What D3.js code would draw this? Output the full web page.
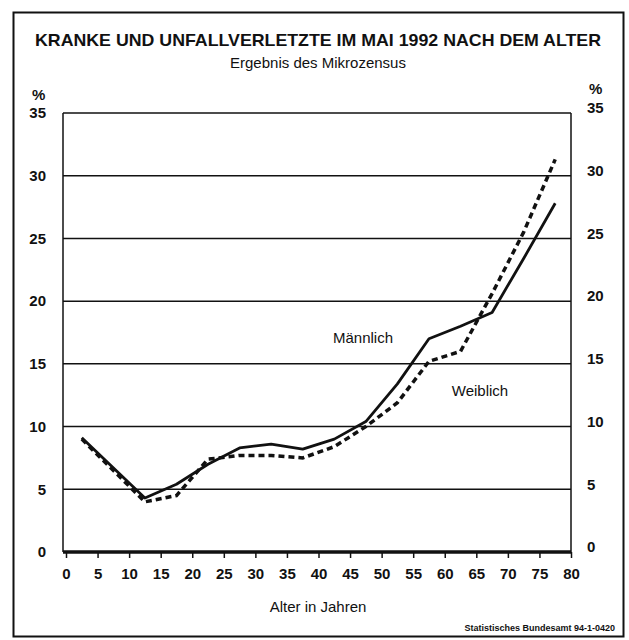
<!DOCTYPE html>
<html lang="de">
<head>
  <meta charset="UTF-8">
  <title>Kranke und Unfallverletzte im Mai 1992 nach dem Alter</title>
  <script src="https://d3js.org/d3.v7.min.js"></script>
  <style>
    body {
      margin: 0;
      background: #fff;
      font-family: "Liberation Sans", Arial, sans-serif;
    }
    .tick-label {
      font-size: 15px;
      font-weight: bold;
      fill: #111;
    }
  </style>
</head>
<body>
  <div id="chart"></div>
  <script>
    // Alter (Klassenmitten) und Anteil Kranke/Unfallverletzte in %
    const ages = [2.5, 12.5, 17.5, 22.5, 27.5, 32.5, 37.5, 42.5, 47.5, 52.5, 57.5, 62.5, 67.5, 72.5, 77.5];
    const maennlich = [9.1, 4.3, 5.4, 7.0, 8.3, 8.6, 8.2, 9.0, 10.4, 13.4, 17.0, 18.0, 19.1, 23.4, 27.8];
    const weiblich = [9.0, 4.0, 4.5, 7.4, 7.7, 7.7, 7.5, 8.4, 10.0, 11.9, 15.2, 16.0, 20.6, 25.5, 31.3];
    const xTicks = d3.range(0, 81, 5);
    const yTicks = [0, 5, 10, 15, 20, 25, 30, 35];

    const W = 629, H = 640;
    const plot = {left: 66, right: 571, top: 113, bottom: 552};

    const svg = d3.select("#chart").append("svg")
      .attr("width", W)
      .attr("height", H);

    const x = d3.scaleLinear().domain([0, 80]).range([plot.left, plot.right]);
    const y = d3.scaleLinear().domain([0, 35]).range([plot.bottom, plot.top]);

    // outer frame
    svg.append("rect")
      .attr("x", 13.5).attr("y", 12.5)
      .attr("width", 610).attr("height", 624)
      .attr("fill", "none")
      .attr("stroke", "#111")
      .attr("stroke-width", 2);

    svg.append("text")
      .attr("x", 318).attr("y", 46)
      .attr("text-anchor", "middle")
      .attr("font-size", 17)
      .attr("font-weight", "bold")
      .attr("textLength", 566)
      .attr("lengthAdjust", "spacingAndGlyphs")
      .attr("fill", "#111")
      .text("KRANKE UND UNFALLVERLETZTE IM MAI 1992 NACH DEM ALTER");

    svg.append("text")
      .attr("x", 318).attr("y", 68)
      .attr("text-anchor", "middle")
      .attr("font-size", 15)
      .attr("fill", "#111")
      .text("Ergebnis des Mikrozensus");

    // gridlines
    svg.append("g")
      .selectAll("line")
      .data(yTicks.filter(d => d > 0))
      .join("line")
      .attr("x1", plot.left - 3).attr("x2", plot.right)
      .attr("y1", d => y(d)).attr("y2", d => y(d))
      .attr("stroke", "#111")
      .attr("stroke-width", 1.5);

    // box sides
    svg.append("line")
      .attr("x1", plot.left - 3).attr("x2", plot.left - 3)
      .attr("y1", plot.top).attr("y2", plot.bottom)
      .attr("stroke", "#111").attr("stroke-width", 1.5);
    svg.append("line")
      .attr("x1", plot.right).attr("x2", plot.right)
      .attr("y1", plot.top).attr("y2", plot.bottom)
      .attr("stroke", "#111").attr("stroke-width", 1.5);

    // x axis
    const xAxis = svg.append("g")
      .attr("transform", "translate(0," + plot.bottom + ")")
      .call(d3.axisBottom(x).tickValues(xTicks).tickSize(6).tickPadding(10).tickFormat(d3.format("d")));
    xAxis.select(".domain").remove();
    xAxis.selectAll(".tick line").attr("stroke", "#111").attr("stroke-width", 1.5);
    xAxis.selectAll(".tick text")
      .attr("class", "tick-label")
      .attr("font-family", null)
      .attr("font-size", null);
    svg.append("line")
      .attr("x1", plot.left - 3).attr("x2", plot.right)
      .attr("y1", plot.bottom).attr("y2", plot.bottom)
      .attr("stroke", "#111").attr("stroke-width", 3.5);

    // y labels both sides
    svg.append("g")
      .selectAll("text")
      .data(yTicks)
      .join("text")
      .attr("class", "tick-label")
      .attr("x", 46)
      .attr("y", d => y(d))
      .attr("dy", "0.35em")
      .attr("text-anchor", "end")
      .text(d => d);
    svg.append("g")
      .selectAll("text")
      .data(yTicks)
      .join("text")
      .attr("class", "tick-label")
      .attr("x", 587)
      .attr("y", d => y(d) - 5)
      .attr("dy", "0.35em")
      .attr("text-anchor", "start")
      .text(d => d);
    svg.append("text").attr("class", "tick-label")
      .attr("x", 32).attr("y", 100).text("%");
    svg.append("text").attr("class", "tick-label")
      .attr("x", 589).attr("y", 94).text("%");

    // lines
    const line = d3.line()
      .x(d => x(d[0]))
      .y(d => y(d[1]));

    svg.append("path")
      .datum(d3.zip(ages, weiblich))
      .attr("d", line)
      .attr("fill", "none")
      .attr("stroke", "#111")
      .attr("stroke-width", 3.5)
      .attr("stroke-dasharray", "6,4");

    svg.append("path")
      .datum(d3.zip(ages, maennlich))
      .attr("d", line)
      .attr("fill", "none")
      .attr("stroke", "#111")
      .attr("stroke-width", 2.8)
      .attr("stroke-linejoin", "round");

    svg.append("text")
      .attr("x", 363).attr("y", 343)
      .attr("text-anchor", "middle")
      .attr("font-size", 15)
      .attr("fill", "#111")
      .text("Männlich");

    svg.append("text")
      .attr("x", 480).attr("y", 396)
      .attr("text-anchor", "middle")
      .attr("font-size", 15)
      .attr("fill", "#111")
      .text("Weiblich");

    svg.append("text")
      .attr("x", 318).attr("y", 612)
      .attr("text-anchor", "middle")
      .attr("font-size", 15)
      .attr("fill", "#111")
      .text("Alter in Jahren");

    svg.append("text")
      .attr("x", 615).attr("y", 631)
      .attr("text-anchor", "end")
      .attr("font-size", 9)
      .attr("font-weight", "bold")
      .attr("fill", "#111")
      .text("Statistisches Bundesamt 94-1-0420");
  </script>
</body>
</html>
